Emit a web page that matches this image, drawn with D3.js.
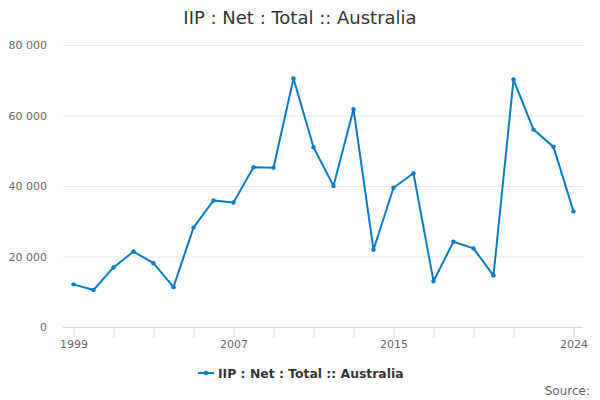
<!DOCTYPE html>
<html>
<head>
<meta charset="utf-8">
<script src="https://cdn.jsdelivr.net/npm/d3@7"></script>
<style>
body { margin: 0; background: #fff; }
text { font-family: "DejaVu Sans", sans-serif; }
</style>
</head>
<body>
<div id="chart"></div>
<script>
// data
var years = [1999, 2000, 2001, 2002, 2003, 2004, 2005, 2006, 2007, 2008, 2009, 2010, 2011, 2012, 2013, 2014, 2015, 2016, 2017, 2018, 2019, 2020, 2021, 2022, 2023, 2024]
var values = [12100, 10500, 16900, 21400, 18100, 11300, 28200, 35900, 35300, 45300, 45200, 70500, 51000, 40000, 61800, 21900, 39500, 43600, 13000, 24200, 22300, 14600, 70200, 56000, 51100, 32800]
var yTicks = [0, 20000, 40000, 60000, 80000]
var xTicks = [1999, 2001, 2003, 2005, 2007, 2009, 2011, 2013, 2015, 2017, 2019, 2021, 2024]
var xLabels = [1999, 2007, 2015, 2024]
var seriesName = "IIP : Net : Total :: Australia"

var svg = d3.select("#chart").append("svg").attr("width", 600).attr("height", 400)
var margin = { top: 45, bottom: 73, left: 63, right: 17 }
var width = 600 - margin.left - margin.right
var height = 400 - margin.top - margin.bottom
var color = "#0a7bc1"

var x = d3.scaleLinear().domain([1999, 2024]).range([10.5, width - 9.5])
var y = d3.scaleLinear().domain([0, 80000]).range([height, 0])
var g = svg.append("g").attr("transform", "translate(" + margin.left + "," + margin.top + ")")

// title
svg.append("text").attr("x", 300).attr("y", 24).attr("text-anchor", "middle")
    .style("font-size", "18px").style("fill", "#333").text(seriesName)

// grid lines
g.selectAll(".grid").data(yTicks.filter(function(d) { return d > 0 })).enter()
    .append("line").attr("x1", 0).attr("x2", width)
    .attr("y1", function(d) { return y(d) + 0.5 }).attr("y2", function(d) { return y(d) + 0.5 })
    .style("stroke", "#e6e6e6")

// y labels
g.selectAll(".ylab").data(yTicks).enter().append("text")
    .attr("x", -16).attr("y", function(d) { return y(d) + 4 })
    .attr("text-anchor", "end").style("font-size", "11px").style("fill", "#666")
    .text(function(d) { return d3.format(",")(d).replace(/,/g, " ") })

// x axis
var xAxis = d3.axisBottom(x).tickValues(xTicks).tickSize(10).tickPadding(3)
    .tickFormat(function(d) { return xLabels.indexOf(d) >= 0 ? d : "" })
var ax = g.append("g").attr("transform", "translate(0," + (height + 0.5) + ")").call(xAxis)
ax.select(".domain").attr("d", "M0,0H" + width).style("stroke", "#ccd6eb")
ax.selectAll(".tick line").style("stroke", "#ccd6eb")
ax.selectAll(".tick text").style("font-size", "11px").style("fill", "#666")
    .style("font-family", "DejaVu Sans, sans-serif")

// line
var line = d3.line().x(function(d, i) { return x(years[i]) }).y(function(d) { return y(d) })
g.append("path").datum(values).attr("d", line)
    .style("fill", "none").style("stroke", color).style("stroke-width", 2).style("stroke-linejoin", "round")
g.selectAll("circle").data(values).enter().append("circle")
    .attr("cx", function(d, i) { return x(years[i]) }).attr("cy", function(d) { return y(d) })
    .attr("r", 2.2).style("fill", color)

// legend
var legend = svg.append("g").attr("transform", "translate(198,373)")
legend.append("line").attr("x1", 0).attr("x2", 16).attr("y1", 0).attr("y2", 0)
    .style("stroke", color).style("stroke-width", 2)
legend.append("circle").attr("cx", 8).attr("cy", 0).attr("r", 2.2).style("fill", color)
legend.append("text").attr("x", 20).attr("y", 5).style("font-size", "12.4px")
    .style("font-weight", "bold").style("fill", "#333").text(seriesName)

// credits
svg.append("text").attr("x", 590).attr("y", 395).attr("text-anchor", "end")
    .style("font-size", "12px").style("fill", "#666").text("Source:")
</script>
</body>
</html>
